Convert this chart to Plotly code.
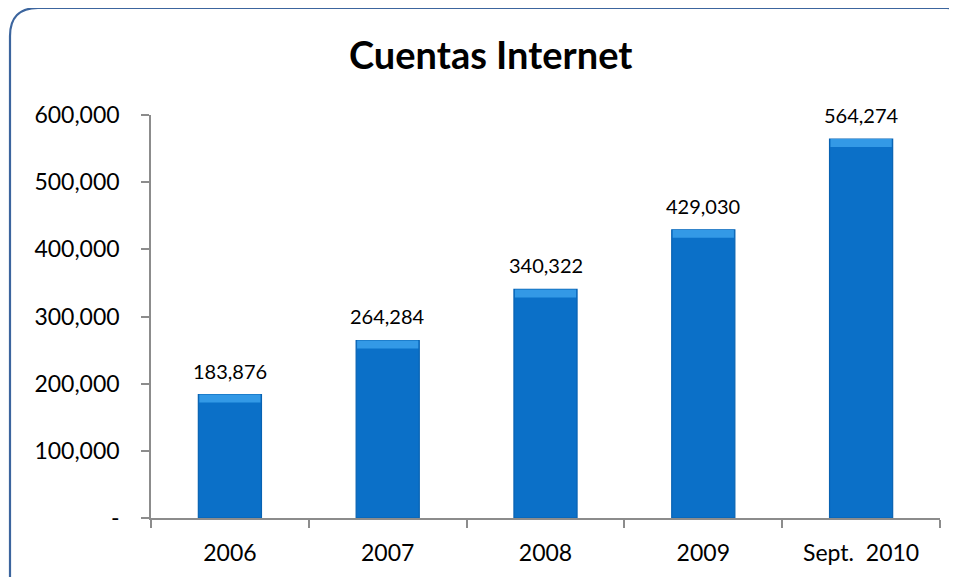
import plotly.graph_objects as go

categories = ["2006", "2007", "2008", "2009", "Sept.\u00a0 2010"]
accounts = [183876, 264284, 340322, 429030, 564274]
label_texts = ["183,876", "264,284", "340,322", "429,030", "564,274"]
y_tickvals = [0, 100000, 200000, 300000, 400000, 500000, 600000]
y_ticktext = ["-", "100,000", "200,000", "300,000", "400,000", "500,000", "600,000"]
title_text = "Cuentas Internet"

W, H = 957, 577
OFF = 8  # page body offset
ML, MR, MT, MB = 151 - OFF, 25, 115 - OFF, 67
PW, PH = W - ML - MR, H - MT - MB
Y_MAX = 600000

def px_to_paper(px, py):
    fx, fy = px - OFF, py - OFF
    return (fx - ML) / PW, (H - MB - fy) / PH

FONT = "Lato, Calibri, sans-serif"
BAR_W = 0.4
BEVEL = 8 * Y_MAX / PH  # top bevel height (8 px) in data units

fig = go.Figure()
fig.add_trace(go.Bar(
    x=categories, y=accounts, width=BAR_W,
    marker=dict(color="#0B70C8", line=dict(color="#0862B2", width=1.2)),
    hoverinfo="x+y",
))
# top bevel highlight
fig.add_trace(go.Bar(
    x=categories, y=[BEVEL] * len(accounts), base=[v - BEVEL for v in accounts],
    width=BAR_W * 0.97,
    marker=dict(color="#3399E6", line=dict(width=0)),
    hoverinfo="skip",
))

for i, (v, t) in enumerate(zip(accounts, label_texts)):
    fig.add_annotation(x=i, y=v, text=t, showarrow=False, yanchor="bottom",
                       yshift=10, font=dict(family=FONT, size=20, color="#000"))

# title
tx, ty = px_to_paper(490, 54)
fig.add_annotation(xref="paper", yref="paper", x=tx, y=ty, text="<b>" + title_text + "</b>",
                   showarrow=False, xanchor="center", yanchor="middle",
                   font=dict(family=FONT, size=38, color="#000"))

# rounded border
x0, y0 = px_to_paper(10, 8)
x1, y1 = px_to_paper(975, 595)
r = 28
rx, ry = r / PW, r / PH
path = (f"M {x0},{y1} L {x0},{y0 - ry} Q {x0},{y0} {x0 + rx},{y0} "
        f"L {x1 - rx},{y0} Q {x1},{y0} {x1},{y0 - ry} L {x1},{y1}")
fig.add_shape(type="path", xref="paper", yref="paper", path=path,
              line=dict(color="#3C659E", width=2.2), layer="above")

fig.update_layout(
    width=W, height=H,
    margin=dict(l=ML, r=MR, t=MT, b=MB, autoexpand=False),
    paper_bgcolor="white", plot_bgcolor="white",
    barmode="overlay", showlegend=False,
    font=dict(family=FONT, color="#000"),
)
fig.update_xaxes(
    type="category", automargin=False, tickangle=0,
    showline=True, linecolor="#8C8C8C", linewidth=1.5,
    ticks="outside", ticklen=8, tickcolor="#8C8C8C", tickwidth=1.5,
    tickson="boundaries", showgrid=False,
    tickfont=dict(family=FONT, size=23, color="#000"),
    ticklabelstandoff=14,
)
fig.update_yaxes(
    range=[0, Y_MAX], tickvals=y_tickvals, ticktext=y_ticktext, automargin=False,
    showline=True, linecolor="#8C8C8C", linewidth=1.5,
    ticks="outside", ticklen=8, tickcolor="#8C8C8C", tickwidth=1.5,
    showgrid=False, zeroline=False,
    tickfont=dict(family=FONT, size=23, color="#000"),
    ticklabelstandoff=17,
)

fig.write_html("out.html")
